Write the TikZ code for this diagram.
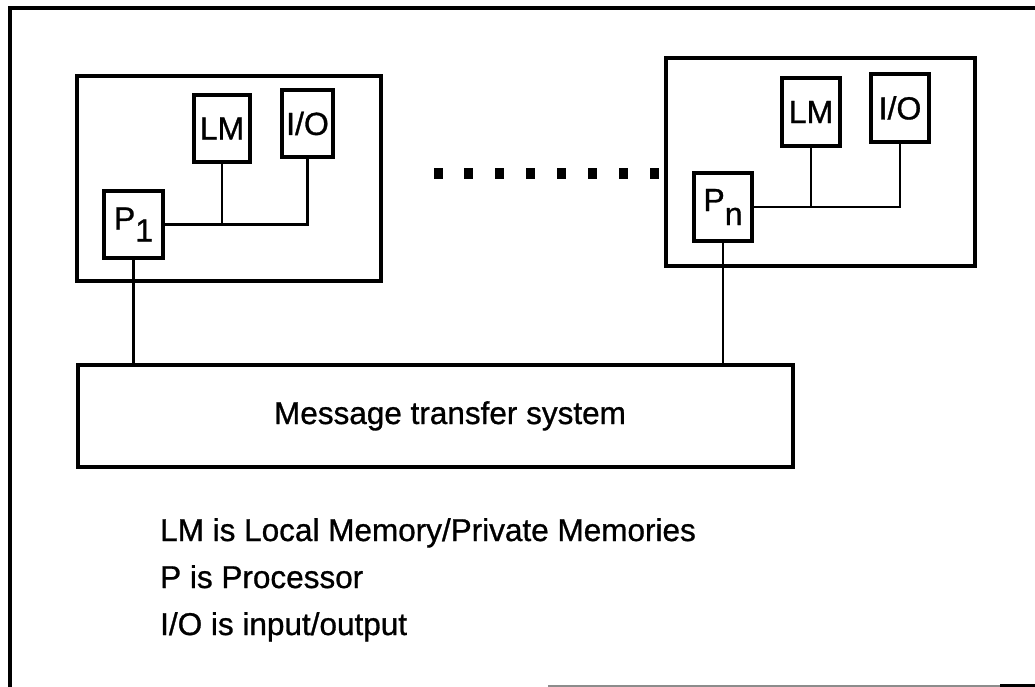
\documentclass[tikz,border=0pt]{standalone}
\usepackage{fontspec}
\setmainfont{Liberation Sans}
\newfontfamily\heavysans[FakeBold=0.9]{Liberation Sans}
\begin{document}
\begin{tikzpicture}[x=1pt,y=-1pt,
  box/.style={draw, line width=3.4pt, inner sep=0pt, font=\heavysans\fontsize{32}{38}\selectfont},
  wire/.style={line width=2.7pt},
  frame/.style={line width=3.2pt},
  legend/.style={anchor=base west, inner sep=0pt, font=\heavysans\fontsize{31.5}{38}\selectfont}]
\useasboundingbox (0,0) rectangle (1035,687);

% outer frame
\draw[frame] (1035,8) -- (10,8) -- (10,687);
\draw[line width=1.5pt, black!45] (548,686) -- (1000,686);
\draw[frame] (1000,686) -- (1035,686);

% processing element 1
\node[box, minimum width=304pt, minimum height=205pt] (mod1) at (229,178.5) {};
\node[box, minimum width=56pt, minimum height=67pt] (LM1) at (222,128.5) {LM};
\node[box, minimum width=51pt, minimum height=67pt] (IO1) at (307.5,123.5) {I/O};
\node[box, minimum width=59pt, minimum height=67pt] (P1) at (133.5,224.5) {P\raisebox{-12pt}{1}};
\draw[wire] (P1.east) -- (IO1.south |- P1.east) -- (IO1.south);
\draw[wire] (LM1.south) -- (LM1.south |- P1.east);

% processing element n
\node[box, minimum width=309pt, minimum height=208pt] (modn) at (820.5,162) {};
\node[box, minimum width=58pt, minimum height=68pt] (LMn) at (811,112) {LM};
\node[box, minimum width=58pt, minimum height=68pt] (IOn) at (900,108) {I/O};
\node[box, minimum width=58pt, minimum height=68pt] (Pn) at (723,207) {P\raisebox{-14pt}{n}};
\draw[wire] (Pn.east) -- (IOn.south |- Pn.east) -- (IOn.south);
\draw[wire] (LMn.south) -- (LMn.south |- Pn.east);

% elements in between
\foreach \i in {0,...,7}
  \fill ({438+30.9*\i-4.5},168) rectangle ++(9,11);

% message transfer system
\node[box, minimum width=715pt, minimum height=102pt] (MTS) at (435.5,416) {};
\node[anchor=base, inner sep=0pt, font=\heavysans\fontsize{31.5}{38}\selectfont] (MTSlabel) at (450,424) {Message transfer system};
\draw[wire] (P1.south) -- (P1.south |- MTS.north);
\draw[wire] (Pn.south) -- (Pn.south |- MTS.north);

% legend
\node[legend] (leg1) at (160,541) {LM is Local Memory/Private Memories};
\node[legend] (leg2) at (160,588) {P is Processor};
\node[legend] (leg3) at (160,635) {I/O is input/output};
\end{tikzpicture}
\end{document}
